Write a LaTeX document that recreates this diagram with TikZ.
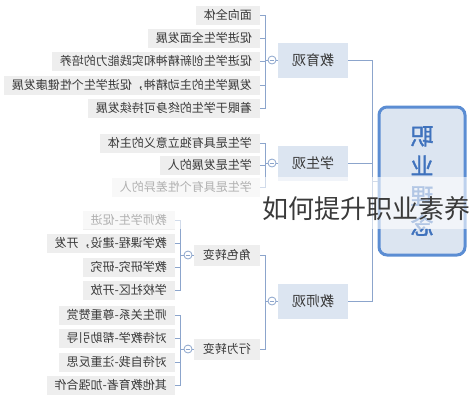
\documentclass[tikz,border=0pt]{standalone}
\usepackage{fontspec}
\usepackage{graphicx}
\setmainfont{Noto Sans CJK SC}
\newfontfamily\rootfont[FakeBold=1.6]{Noto Sans CJK SC}
\usetikzlibrary{calc}
\definecolor{linec}{HTML}{8CA5CC}
\definecolor{topfill}{HTML}{DCE5F1}
\definecolor{leaffill}{HTML}{EEEEEE}
\definecolor{rootline}{HTML}{5B8DD3}
\definecolor{roottext}{HTML}{3F72BD}
\definecolor{txt}{HTML}{3A3A3A}
\newcommand{\flipped}[1]{\reflectbox{#1}}

\begin{document}
\begin{tikzpicture}[x=1pt,y=-1pt,
  leaf/.style={fill=leaffill, text=txt, font=\fontsize{12}{13}\selectfont,
    inner xsep=8pt, inner ysep=0pt, minimum height=19pt, anchor=east},
  topic/.style={fill=topfill, text=txt, font=\fontsize{14}{15}\selectfont,
    minimum width=70pt, minimum height=35pt},
  subtopic/.style={fill=leaffill, text=txt, font=\fontsize{12}{13}\selectfont,
    inner xsep=9pt, inner ysep=0pt, minimum height=21pt, anchor=east},
  fold/.style={circle, draw=linec, fill=white, line width=0.8pt, minimum size=8pt,
    inner sep=0pt, path picture={\draw[linec,line width=0.8pt]
      ($(path picture bounding box.west)+(1.8pt,0)$) -- ($(path picture bounding box.east)+(-1.8pt,0)$);}},
  link/.style={draw=linec, line width=0.9pt}]
  \useasboundingbox (0,0) rectangle (471,400);

  % Root node
  \node[draw=rootline, line width=3pt, fill=topfill, rounded corners=8pt,
    minimum width=86pt, minimum height=148pt, text=roottext, align=center,
    font=\rootfont\fontsize{23}{30}\selectfont] (root) at (422,181)
    {\flipped{职}\\\flipped{业}\\\flipped{理}\\\flipped{念}};

  % Main topics
  \node[topic] (edu) at (313,60) {\flipped{教育观}};
  \node[topic] (stu) at (313,163) {\flipped{学生观}};
  \node[topic] (tea) at (313,301) {\flipped{教师观}};

  \coordinate (rb) at (372,181);
  \draw[link] (root.west) -- (rb);
  \foreach \t in {edu,stu,tea}
    \draw[link] (rb) |- (\t.east);

  % Fold buttons and buses of the main topics
  \node[fold] (fedu) at (272,60) {};
  \node[fold] (fstu) at (272,163) {};
  \node[fold] (ftea) at (272,301) {};
  \coordinate (bedu) at (265,60);
  \coordinate (bstu) at (265,163);
  \coordinate (btea) at (265,301);
  \foreach \t in {edu,stu,tea} {
    \draw[link] (\t.west) -- (f\t.east);
    \draw[link] (f\t.west) -- (b\t);
  }

  % Education view
  \foreach \n/\y/\s in {1/15/{面向全体}, 2/38/{促进学生全面发展},
      3/61/{促进学生创新精神和实践能力的培养},
      4/85/{发展学生的主动精神，促进学生个性健康发展},
      5/108/{着眼于学生的终身可持续发展}} {
    \node[leaf] (edu\n) at (260,\y) {\flipped{\s}};
    \draw[link] (bedu) |- (edu\n.east);
  }

  % Student view
  \foreach \n/\y/\s in {1/143/{学生是具有独立意义的主体}, 2/165/{学生是发展的人},
      3/187/{学生是具有个性差异的人}} {
    \node[leaf] (stu\n) at (260,\y) {\flipped{\s}};
    \draw[link] (bstu) |- (stu\n.east);
  }

  % Teacher view
  \node[subtopic] (role) at (260,255) {\flipped{角色转变}};
  \node[subtopic] (act) at (260,349) {\flipped{行为转变}};
  \draw[link] (btea) |- (role.east);
  \draw[link] (btea) |- (act.east);

  \node[fold] (frole) at (188,255) {};
  \node[fold] (fact) at (188,349) {};
  \coordinate (brole) at (180,255);
  \coordinate (bact) at (180,349);
  \foreach \t in {role,act} {
    \draw[link] (\t.west) -- (f\t.east);
    \draw[link] (f\t.west) -- (b\t);
  }

  \foreach \n/\y/\s in {1/220/{教师学生-促进}, 2/243/{教学课程-建设，开发},
      3/267/{教学研究-研究}, 4/290/{学校社区-开放}} {
    \node[leaf] (role\n) at (175,\y) {\flipped{\s}};
    \draw[link] (brole) |- (role\n.east);
  }

  \foreach \n/\y/\s in {1/315/{师生关系-尊重赞赏}, 2/338/{对待教学-帮助引导},
      3/362/{对待自我-注重反思}, 4/385/{其他教育者-加强合作}} {
    \node[leaf] (act\n) at (175,\y) {\flipped{\s}};
    \draw[link] (bact) |- (act\n.east);
  }

  % Caption band
  \fill[white, opacity=0.6] (0,177) rectangle (471,229);
  \node[anchor=east, inner sep=0pt, text=txt, font=\fontsize{26}{28}\selectfont]
    (caption) at (471,209) {如何提升职业素养};

\end{tikzpicture}
\end{document}
